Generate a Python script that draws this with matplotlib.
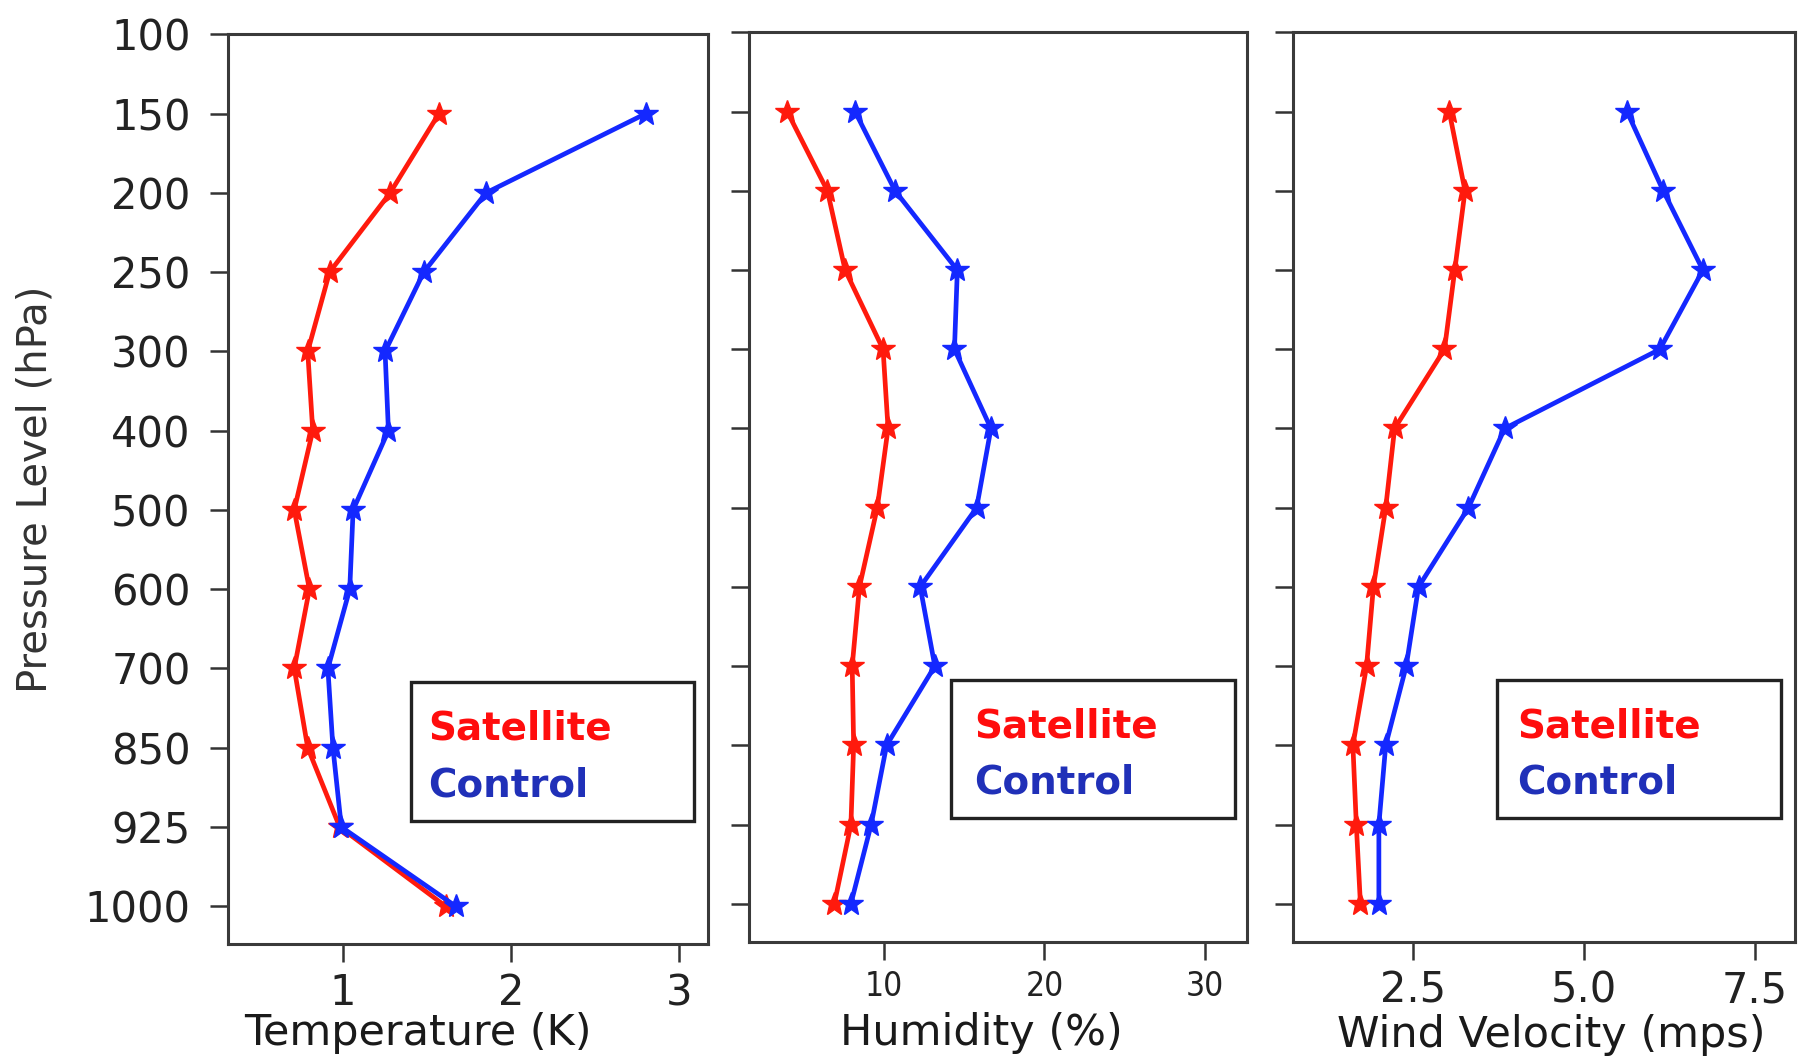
import matplotlib
matplotlib.use('Agg')
import matplotlib.pyplot as plt
from matplotlib.patches import Rectangle

# Druckniveaus (hPa), gleichmaessig auf der y-Achse verteilt
levels = ['100', '150', '200', '250', '300', '400', '500', '600', '700', '850', '925', '1000']

# Temperatur (K)
temp_sat = [1.57, 1.28, 0.92, 0.79, 0.82, 0.71, 0.80, 0.71, 0.79, 0.98, 1.61]
temp_ctl = [2.80, 1.85, 1.48, 1.25, 1.27, 1.06, 1.04, 0.91, 0.94, 0.99, 1.67]

# Feuchte (%)
hum_sat = [4.0, 6.5, 7.6, 9.96, 10.27, 9.6, 8.49, 8.04, 8.13, 7.96, 6.93]
hum_ctl = [8.22, 10.71, 14.58, 14.4, 16.67, 15.78, 12.27, 13.18, 10.18, 9.22, 7.96]

# Windgeschwindigkeit (mps)
wind_sat = [3.03, 3.26, 3.11, 2.96, 2.23, 2.10, 1.92, 1.82, 1.62, 1.67, 1.73]
wind_ctl = [5.63, 6.16, 6.74, 6.11, 3.84, 3.31, 2.58, 2.40, 2.10, 2.00, 2.00]

red = '#ff1a0d'
blue = '#1428ff'
legend_red = '#ff0d0d'
legend_blue = '#2030b8'

fig = plt.figure(figsize=(18.11, 10.61), dpi=100)

panels = [
    dict(rect=[0.1259, 0.110, 0.265, 0.8576], sat=temp_sat, ctl=temp_ctl,
         xlim=(0.316, 3.17), xticks=[1, 2, 3], xticklabels=['1', '2', '3'],
         xlabel='Temperature (K)', lab=(0.396, -0.074), tfs=30, stretch='normal',
         leg_x=0.381, leg_w=0.59, txt_x=0.418),
    dict(rect=[0.4134, 0.1124, 0.2752, 0.8570], sat=hum_sat, ctl=hum_ctl,
         xlim=(1.6, 32.6), xticks=[10, 20, 30], xticklabels=['10', '20', '30'],
         xlabel='Humidity (%)', lab=(0.466, -0.077), tfs=24, stretch='condensed',
         leg_x=0.406, leg_w=0.57, txt_x=0.452),
    dict(rect=[0.7142, 0.1124, 0.2767, 0.8570], sat=wind_sat, ctl=wind_ctl,
         xlim=(0.75, 8.08), xticks=[2.5, 5.0, 7.5], xticklabels=['2.5', '5.0', '7.5'],
         xlabel='Wind Velocity (mps)', lab=(0.514, -0.080), tfs=30, stretch='normal',
         leg_x=0.406, leg_w=0.567, txt_x=0.447),
]

y_pos = list(range(len(levels)))
y_data = y_pos[1:]

for i, p in enumerate(panels):
    ax = fig.add_axes(p['rect'])
    ax.plot(p['sat'], y_data, color=red, lw=3.4, marker='*', ms=18, zorder=3)
    ax.plot(p['ctl'], y_data, color=blue, lw=3.4, marker='*', ms=18, zorder=4)

    ax.set_xlim(*p['xlim'])
    ax.set_ylim(11.48, 0)
    ax.set_xticks(p['xticks'])
    ax.set_xticklabels(p['xticklabels'], fontsize=p['tfs'], fontstretch=p['stretch'])
    ax.set_yticks(y_pos)
    if i == 0:
        ax.set_yticklabels(levels, fontsize=30)
        ax.set_ylabel('Pressure Level (hPa)', fontsize=29, color='#333333')
        ax.yaxis.set_label_coords(-0.36, 0.5)
    else:
        ax.set_yticklabels([])
    ax.tick_params(axis='both', direction='out', length=13, width=1.8,
                   colors='#333333', labelcolor='#222222')
    ax.tick_params(axis='x', pad=7)
    ax.tick_params(axis='y', pad=14)
    ax.set_xlabel(p['xlabel'], fontsize=31, color='#1a1a1a')
    ax.xaxis.set_label_coords(*p['lab'])
    for s in ax.spines.values():
        s.set_color('#3a3a3a')
        s.set_linewidth(2.2)

    # Legendenkasten mit farbigem Text
    ax.add_patch(Rectangle((p['leg_x'], 0.136), p['leg_w'], 0.152, transform=ax.transAxes,
                           fill=False, edgecolor='#222222', lw=2.4, zorder=5))
    ax.text(p['txt_x'], 0.237, 'Satellite', transform=ax.transAxes, color=legend_red,
            fontsize=28, fontweight='bold', va='center', ha='left', zorder=6)
    ax.text(p['txt_x'], 0.175, 'Control', transform=ax.transAxes, color=legend_blue,
            fontsize=28, fontweight='bold', va='center', ha='left', zorder=6)

fig.savefig('out.png', dpi=100)
